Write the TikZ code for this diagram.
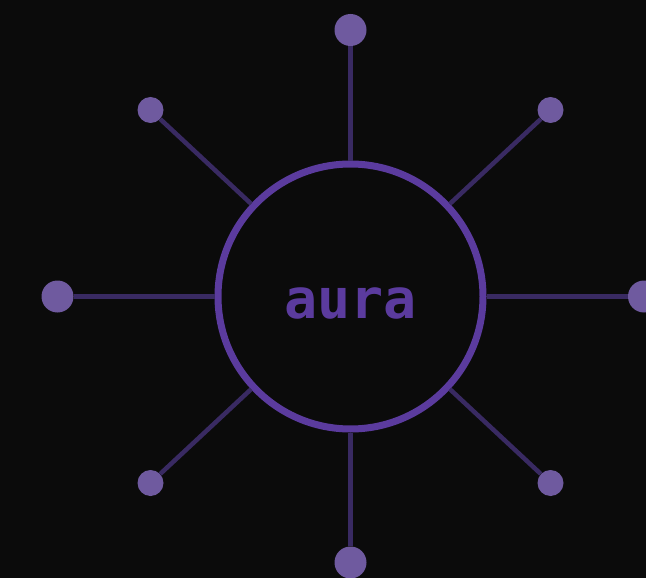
\documentclass[tikz,border=0pt]{standalone}
\usepackage{fontspec}
\newfontfamily\monofont{DejaVu Sans Mono}
\usepackage{tikz}
\definecolor{bgdark}{HTML}{0B0B0B}
\definecolor{ringviolet}{HTML}{5B3B9E}
\definecolor{spokeviolet}{HTML}{392A62}
\definecolor{dotviolet}{HTML}{6F5A9F}
\tikzset{
  hub/.style={circle,draw=ringviolet,line width=7pt,minimum size=265pt,inner sep=0pt},
  bigdot/.style={circle,fill=dotviolet,minimum size=32pt,inner sep=0pt},
  smalldot/.style={circle,fill=dotviolet,minimum size=26pt,inner sep=0pt},
  spoke/.style={draw=spokeviolet,line width=4.5pt}
}

\begin{document}
\begin{tikzpicture}[x=1pt,y=-1pt]
  \fill[bgdark] (0,0) rectangle (646,578);
  \useasboundingbox (0,0) rectangle (646,578);
  \node[hub] (aura) at (350.5,296.5) {};
  \node[bigdot] (top) at (350.5,30) {};
  \node[bigdot] (bottom) at (350.5,562.5) {};
  \node[bigdot] (left) at (57.5,296.5) {};
  \node[bigdot] (right) at (644,296.5) {};
  \node[smalldot] (topleft) at (150.5,110) {};
  \node[smalldot] (topright) at (550.5,110) {};
  \node[smalldot] (botleft) at (150.5,483) {};
  \node[smalldot] (botright) at (550.5,483) {};
  \draw[spoke] (aura) -- (top);
  \draw[spoke] (aura) -- (bottom);
  \draw[spoke] (aura) -- (left);
  \draw[spoke] (aura) -- (right);
  \draw[spoke] (aura) -- (topleft);
  \draw[spoke] (aura) -- (topright);
  \draw[spoke] (aura) -- (botleft);
  \draw[spoke] (aura) -- (botright);
  \node[anchor=base,text=ringviolet,font=\monofont\bfseries\fontsize{55}{55}\selectfont,inner sep=0pt] (label) at (350.5,318) {aura};
\end{tikzpicture}
\end{document}
